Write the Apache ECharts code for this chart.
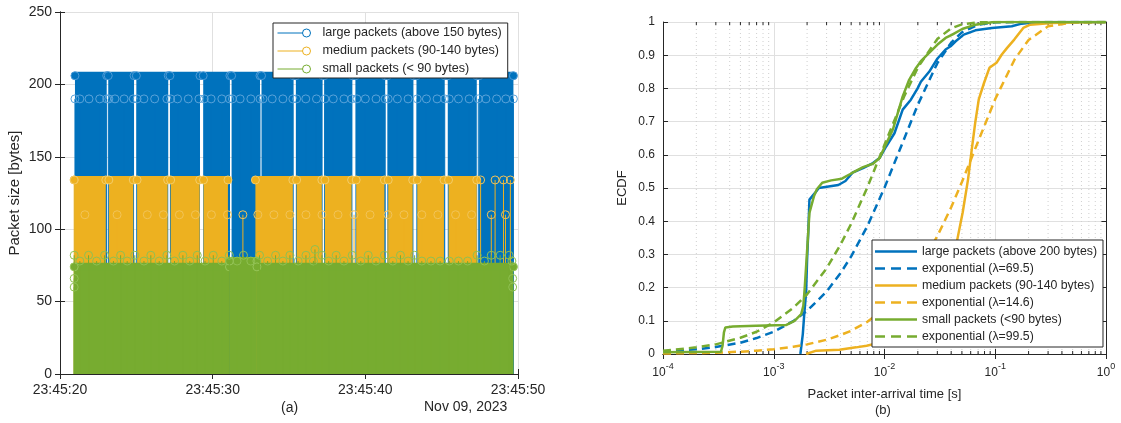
<!DOCTYPE html>
<html>
<head>
<meta charset="utf-8">
<script src="https://cdn.jsdelivr.net/npm/echarts@6.0.0/dist/echarts.min.js"></script>
<style>
html, body { margin: 0; padding: 0; background: #fff; }
#main { width: 1121px; height: 423px; }
</style>
</head>
<body>
<div id="main"></div>
<script>
// ---------- (a) packet sizes, time in seconds after 23:45:20 ----------
var timeTickLabels = ['23:45:20', '23:45:30', '23:45:40', '23:45:50'];

// dense bursts of stems: [start s, end s, size bytes]
var largeBursts = [[0.98, 3.06, 206], [3.16, 4.85, 206], [5.0, 7.09, 206], [7.2, 9.17, 206], [9.38, 11.13, 206],
  [11.24, 13.1, 206], [13.2, 15.3, 206], [15.45, 17.2, 206], [17.3, 19.15, 206], [19.35, 21.3, 206],
  [21.45, 23.15, 206], [23.35, 25.2, 206], [25.4, 27.3, 206], [27.45, 29.7, 206]];
var mediumBursts = [[0.93, 3.0, 134], [3.2, 4.8, 134], [5.05, 7.05, 134], [7.25, 9.15, 134], [9.4, 11.0, 134],
  [12.8, 15.25, 134], [15.5, 17.15, 134], [17.35, 19.1, 134], [19.4, 21.25, 134], [21.5, 23.1, 134],
  [23.4, 25.15, 134], [25.45, 27.3, 134]];
var smallBursts = [[0.93, 11.1, 74], [11.1, 12.9, 78], [12.9, 29.7, 74]];

// single stems that stand out
var large190Times = [0.98, 1.3, 1.9, 2.6, 3.06, 3.2, 3.6, 4.2, 4.8, 5.05, 5.5, 6.2, 7.0, 7.25, 7.7, 8.4, 9.1, 9.45,
  9.9, 10.6, 11.1, 11.3, 11.8, 12.5, 13.1, 13.3, 13.9, 14.6, 15.25, 15.5, 16.1, 16.8, 17.35, 17.9, 18.6, 19.1,
  19.45, 20.0, 20.7, 21.3, 21.5, 22.1, 22.8, 23.4, 24.0, 24.7, 25.2, 25.5, 26.1, 26.8, 27.4, 27.9, 28.6, 29.2, 29.7];
var medium110Times = [1.63, 3.74, 5.72, 6.77, 7.82, 8.87, 9.92, 10.97, 11.98, 12.96, 14.01, 15.06, 16.11, 17.16,
  18.21, 19.26, 20.31, 21.48, 22.53, 23.70, 24.75, 25.91, 26.96, 28.25, 29.18];
var medium134Times = [0.93, 27.55, 28.5, 29.05, 29.5];
var small82Times = [0.93, 1.87, 2.92, 3.97, 4.90, 5.95, 7.00, 8.05, 8.99, 10.04, 11.09, 12.02, 13.07, 14.12, 15.06,
  16.11, 17.16, 18.09, 19.14, 20.19, 21.25, 22.30, 23.23, 27.32, 28.25, 28.83, 29.42];
var small78Times = [1.3, 2.4, 3.5, 4.4, 5.5, 6.5, 7.5, 8.5, 9.5, 10.6, 11.6, 12.5, 13.6, 14.6, 15.6, 16.6, 17.6,
  18.6, 19.7, 20.7, 21.8, 22.8, 23.7, 24.3, 24.9, 25.5, 26.1, 26.7, 27.8, 29.6];
var smallOtherStems = [[16.7, 86], [0.93, 66], [0.93, 60], [29.65, 66], [29.65, 60]];

// ---------- (b) ECDF of inter-arrival time ----------
var decadeExponents = ['-4', '-3', '-2', '-1', '0'];
var ecdfTickLabels = ['0', '0.1', '0.2', '0.3', '0.4', '0.5', '0.6', '0.7', '0.8', '0.9', '1'];
var minorMultipliers = [2, 3, 4, 5, 6, 7, 8, 9];
var decades = [1e-4, 1e-3, 1e-2, 1e-1];

var largeX = [1.74e-3, 1.83e-3, 1.89e-3, 1.96e-3, 2.0e-3, 2.06e-3, 2.10e-3, 2.37e-3, 2.55e-3, 3.83e-3, 4.44e-3,
  5.14e-3, 6.4e-3, 7.87e-3, 9.02e-3, 0.01035, 0.0123, 0.0146, 0.0173, 0.0199, 0.0213, 0.0253, 0.0301, 0.0356,
  0.0395, 0.0439, 0.052, 0.0662, 0.0933, 0.141, 0.173, 0.228, 0.395, 1];
var largeY = [0, 0.06, 0.125, 0.185, 0.285, 0.385, 0.465, 0.486, 0.50, 0.509, 0.521, 0.546, 0.56, 0.575, 0.59,
  0.625, 0.665, 0.736, 0.766, 0.80, 0.82, 0.85, 0.89, 0.917, 0.927, 0.942, 0.962, 0.975, 0.982, 0.987, 0.995,
  0.999, 1, 1];
var mediumX = [1.96e-3, 2.42e-3, 3.92e-3, 5.54e-3, 6.9e-3, 9.29e-3, 0.015, 0.025, 0.035, 0.042, 0.0455, 0.0508,
  0.0568, 0.0611, 0.0659, 0.071, 0.0793, 0.0886, 0.1026, 0.1146, 0.128, 0.1485, 0.179, 0.207, 0.323, 0.6, 1];
var mediumY = [0, 0.01, 0.013, 0.02, 0.025, 0.035, 0.05, 0.08, 0.15, 0.28, 0.346, 0.426, 0.526, 0.611, 0.696,
  0.767, 0.817, 0.862, 0.877, 0.902, 0.922, 0.947, 0.982, 0.992, 0.997, 0.999, 1];
var smallX = [1e-4, 3.34e-4, 3.45e-4, 3.55e-4, 3.66e-4, 4.27e-4, 6.92e-4, 1.29e-3, 1.54e-3, 1.77e-3, 1.85e-3,
  1.9e-3, 1.96e-3, 2.03e-3, 2.10e-3, 2.31e-3, 2.45e-3, 2.74e-3, 3.3e-3, 4.12e-3, 4.96e-3, 6.4e-3, 7.87e-3,
  9.02e-3, 0.01035, 0.0119, 0.0146, 0.0167, 0.0192, 0.0213, 0.0253, 0.0301, 0.0356, 0.0409, 0.0503, 0.0662,
  0.0933, 0.11, 1];
var smallY = [0.005, 0.007, 0.025, 0.065, 0.08, 0.083, 0.085, 0.087, 0.10, 0.12, 0.145, 0.195, 0.265, 0.345,
  0.425, 0.476, 0.496, 0.516, 0.523, 0.528, 0.543, 0.563, 0.573, 0.59, 0.633, 0.676, 0.776, 0.826, 0.861, 0.882,
  0.907, 0.932, 0.952, 0.962, 0.979, 0.992, 0.999, 1, 1];

var expX = [1e-4, 2e-4, 3e-4, 5e-4, 7e-4, 1e-3, 1.5e-3, 2e-3, 3e-3, 4e-3, 5e-3, 7e-3, 1e-2, 1.5e-2, 2e-2, 3e-2,
  4e-2, 5e-2, 7e-2, 0.1, 0.15, 0.2, 0.3, 0.5, 1];
var expLargeY = [0.007, 0.014, 0.021, 0.034, 0.048, 0.067, 0.099, 0.13, 0.188, 0.243, 0.294, 0.385, 0.501, 0.647,
  0.751, 0.876, 0.938, 0.969, 0.992, 0.999, 1, 1, 1, 1, 1];
var expMediumY = [0.0015, 0.003, 0.004, 0.007, 0.010, 0.0145, 0.022, 0.029, 0.043, 0.057, 0.070, 0.097, 0.136,
  0.197, 0.253, 0.355, 0.442, 0.518, 0.640, 0.768, 0.888, 0.946, 0.987, 0.999, 1];
var expSmallY = [0.0095, 0.020, 0.029, 0.049, 0.067, 0.095, 0.139, 0.180, 0.258, 0.329, 0.392, 0.502, 0.630,
  0.775, 0.863, 0.949, 0.981, 0.993, 0.999, 1, 1, 1, 1, 1, 1];

var BLUE = '#0072BD', ORANGE = '#EDB120', GREEN = '#77AC30';
var INK = '#262626', GRID = '#e0e0e0';
var FONT = '"Liberation Sans", Arial, sans-serif';

var legendLabels = {
  large: 'large packets (above 150 bytes)',
  medium: 'medium packets (90-140 bytes)',
  small: 'small packets (< 90 bytes)',
  eLarge: 'large packets (above 200 bytes)',
  eLargeFit: 'exponential (λ=69.5)',
  eMedium: 'medium packets (90-140 bytes)',
  eMediumFit: 'exponential (λ=14.6)',
  eSmall: 'small packets (<90 bytes)',
  eSmallFit: 'exponential (λ=99.5)'
};

function pairs(xs, ys) {
  return xs.map(function (x, i) { return [x, ys[i]]; });
}
function atLevel(times, v) {
  return times.map(function (t) { return [t, v]; });
}

// filled block of overlapping stems with a row of circles on top
function renderBurst(color, ring) {
  return function (params, api) {
    var p0 = api.coord([api.value(0), 0]);
    var p1 = api.coord([api.value(1), api.value(2)]);
    var w = p1[0] - p0[0], r = 4;
    return {
      type: 'group',
      children: [
        { type: 'rect', shape: { x: p0[0], y: p1[1], width: w, height: p0[1] - p1[1] }, style: { fill: color } },
        { type: 'rect', shape: { x: p0[0] - r, y: p1[1] - r, width: w + 2 * r, height: 2 * r, r: r }, style: { fill: color } },
        { type: 'circle', shape: { cx: p0[0], cy: p1[1], r: r }, style: { fill: 'none', stroke: ring, lineWidth: 1 } },
        { type: 'circle', shape: { cx: p1[0], cy: p1[1], r: r }, style: { fill: 'none', stroke: ring, lineWidth: 1 } }
      ]
    };
  };
}
function renderStem(color, ring) {
  return function (params, api) {
    var b = api.coord([api.value(0), 0]);
    var t = api.coord([api.value(0), api.value(1)]);
    return {
      type: 'group',
      children: [
        { type: 'line', shape: { x1: b[0], y1: b[1], x2: t[0], y2: t[1] }, style: { stroke: color, lineWidth: 1 } },
        { type: 'circle', shape: { cx: t[0], cy: t[1], r: 4 }, style: { fill: 'none', stroke: ring, lineWidth: 1 } }
      ]
    };
  };
}
// dotted minor grid line for the log axis, with short ticks at both ends
function renderMinor(params, api) {
  var b = api.coord([api.value(0), 0]);
  var t = api.coord([api.value(0), 1]);
  return {
    type: 'group',
    children: [
      { type: 'line', shape: { x1: b[0], y1: b[1], x2: t[0], y2: t[1] }, style: { stroke: '#cfcfcf', lineWidth: 1, lineDash: [1, 3] } },
      { type: 'line', shape: { x1: b[0], y1: b[1], x2: b[0], y2: b[1] - 3 }, style: { stroke: INK, lineWidth: 1 } },
      { type: 'line', shape: { x1: t[0], y1: t[1], x2: t[0], y2: t[1] + 3 }, style: { stroke: INK, lineWidth: 1 } }
    ]
  };
}

var minorTicks = [];
decades.forEach(function (d) {
  minorMultipliers.forEach(function (m) { minorTicks.push([d * m, 0]); });
});

var stemIcon = 'path://M0,5L25,5M33,5A4,4,0,1,1,25,5A4,4,0,1,1,33,5';
// thick line / dashed line icons, padded to a 42x10 box so they are not stretched
var solidIcon = 'path://M0,0L0,0M0,10L0,10M0,3.75L42,3.75L42,6.25L0,6.25Z';
var dashIcon = 'path://M0,0L0,0M0,10L0,10M0,3.75L10,3.75L10,6.25L0,6.25ZM16,3.75L26,3.75L26,6.25L16,6.25ZM32,3.75L42,3.75L42,6.25L32,6.25Z';

function burstSeries(name, data, color, ring) {
  return { type: 'custom', name: name, xAxisIndex: 0, yAxisIndex: 0, clip: true,
    encode: { x: [0, 1], y: 2 }, renderItem: renderBurst(color, ring), data: data, silent: true };
}
function stemSeries(name, data, color, ring) {
  return { type: 'custom', name: name, xAxisIndex: 0, yAxisIndex: 0, clip: true,
    encode: { x: 0, y: 1 }, renderItem: renderStem(color, ring), data: data, silent: true };
}
function ecdfSeries(name, xs, ys, color, dashed) {
  return { type: 'line', name: name, xAxisIndex: 2, yAxisIndex: 2, data: pairs(xs, ys),
    symbol: 'none', showSymbol: false, animation: false, z: 3,
    lineStyle: { color: color, width: 2.5, type: dashed ? [8, 5] : 'solid' }, itemStyle: { color: color } };
}
function stemLegend(name, color) {
  return { name: name, icon: stemIcon, itemStyle: { color: 'rgba(0,0,0,0)', borderColor: color, borderWidth: 1 } };
}
function lineLegend(name, color, dashed) {
  return { name: name, icon: dashed ? dashIcon : solidIcon, itemStyle: { color: color, borderWidth: 0 } };
}
function legendText(name) { return legendLabels[name]; }

var chart = echarts.init(document.getElementById('main'));
var option = {
  animation: false,
  textStyle: { fontFamily: FONT, color: INK },
  grid: [
    { left: 60, top: 12, width: 458, height: 362 },
    { left: 663, top: 22, width: 443, height: 332 }
  ],
  xAxis: [
    { type: 'value', gridIndex: 0, min: 0, max: 30, interval: 10,
      axisLine: { lineStyle: { color: INK } },
      axisTick: { inside: true, length: 5, lineStyle: { color: INK } },
      axisLabel: { color: INK, fontSize: 14, margin: 9,
        formatter: function (v) { return timeTickLabels[Math.round(v / 10)]; } },
      splitLine: { show: true, lineStyle: { color: GRID } } },
    { type: 'value', gridIndex: 0, position: 'top', min: 0, max: 30, interval: 10,
      axisLine: { lineStyle: { color: INK } },
      axisTick: { inside: true, length: 5, lineStyle: { color: INK } },
      axisLabel: { show: false }, splitLine: { show: false } },
    { type: 'log', gridIndex: 1, logBase: 10, min: 1e-4, max: 1,
      axisLine: { lineStyle: { color: INK } },
      axisTick: { inside: true, length: 5, lineStyle: { color: INK } },
      axisLabel: { color: INK, margin: 8,
        formatter: function (v) {
          return '{b|10}{s|' + decadeExponents[Math.round(Math.log10(v)) + 4] + '}';
        },
        rich: { b: { fontSize: 12, color: INK, verticalAlign: 'bottom', lineHeight: 17 },
                s: { fontSize: 9, color: INK, verticalAlign: 'top', lineHeight: 17 } } },
      splitLine: { show: true, lineStyle: { color: GRID } },
      name: 'Packet inter-arrival time [s]', nameLocation: 'middle', nameGap: 34,
      nameTextStyle: { fontSize: 13, color: INK } },
    { type: 'log', gridIndex: 1, logBase: 10, min: 1e-4, max: 1, position: 'top',
      axisLine: { lineStyle: { color: INK } },
      axisTick: { inside: true, length: 5, lineStyle: { color: INK } },
      axisLabel: { show: false }, splitLine: { show: false } }
  ],
  yAxis: [
    { type: 'value', gridIndex: 0, min: 0, max: 250, interval: 50,
      axisLine: { show: true, lineStyle: { color: INK } },
      axisTick: { show: true, inside: true, length: 5, lineStyle: { color: INK } },
      axisLabel: { color: INK, fontSize: 14, margin: 8 },
      splitLine: { show: true, lineStyle: { color: GRID } },
      name: 'Packet size [bytes]', nameLocation: 'middle', nameGap: 38,
      nameTextStyle: { fontSize: 15, color: INK } },
    { type: 'value', gridIndex: 0, position: 'right', min: 0, max: 250, interval: 50,
      axisLine: { show: true, lineStyle: { color: INK } },
      axisTick: { show: true, inside: true, length: 5, lineStyle: { color: INK } },
      axisLabel: { show: false }, splitLine: { show: false } },
    { type: 'value', gridIndex: 1, min: 0, max: 1, interval: 0.1,
      axisLine: { show: true, lineStyle: { color: INK } },
      axisTick: { show: true, inside: true, length: 5, lineStyle: { color: INK } },
      axisLabel: { color: INK, fontSize: 12, margin: 8,
        formatter: function (v) { return ecdfTickLabels[Math.round(v * 10)]; } },
      splitLine: { show: true, lineStyle: { color: GRID } },
      name: 'ECDF', nameLocation: 'middle', nameGap: 34,
      nameTextStyle: { fontSize: 13, color: INK } },
    { type: 'value', gridIndex: 1, position: 'right', min: 0, max: 1, interval: 0.1,
      axisLine: { show: true, lineStyle: { color: INK } },
      axisTick: { show: true, inside: true, length: 5, lineStyle: { color: INK } },
      axisLabel: { show: false }, splitLine: { show: false } }
  ],
  legend: [
    { left: 273, top: 23, orient: 'vertical', backgroundColor: '#fff', borderColor: INK, borderWidth: 1,
      borderRadius: 0, padding: [3, 6, 2, 4], itemGap: 4, itemWidth: 33, itemHeight: 8,
      selectedMode: false, formatter: legendText,
      textStyle: { fontSize: 12.6, color: INK, lineHeight: 14, padding: [0, 0, 0, 7] },
      data: [stemLegend('large', BLUE), stemLegend('medium', ORANGE), stemLegend('small', GREEN)] },
    { left: 872, top: 240, orient: 'vertical', backgroundColor: '#fff', borderColor: INK, borderWidth: 1,
      borderRadius: 0, padding: [5, 6, 4, 3], itemGap: 4, itemWidth: 42, itemHeight: 10,
      selectedMode: false, formatter: legendText,
      textStyle: { fontSize: 12.3, color: INK, lineHeight: 13 },
      data: [lineLegend('eLarge', BLUE, false), lineLegend('eLargeFit', BLUE, true),
             lineLegend('eMedium', ORANGE, false), lineLegend('eMediumFit', ORANGE, true),
             lineLegend('eSmall', GREEN, false), lineLegend('eSmallFit', GREEN, true)] }
  ],
  graphic: [
    { type: 'text', left: 281, top: 401, style: { text: '(a)', font: '14px ' + FONT, fill: INK } },
    { type: 'text', left: 424, top: 400, style: { text: 'Nov 09, 2023', font: '14px ' + FONT, fill: INK } },
    { type: 'text', left: 875, top: 404, style: { text: '(b)', font: '13px ' + FONT, fill: INK } }
  ],
  series: [
    burstSeries('large', largeBursts, BLUE, '#4d9ad6'),
    stemSeries('large', atLevel(large190Times, 190), BLUE, '#5aa3da'),
    burstSeries('medium', mediumBursts, ORANGE, '#f4cc66'),
    stemSeries('medium', atLevel(medium110Times, 110), ORANGE, '#f2c458'),
    stemSeries('medium', atLevel(medium134Times, 134), ORANGE, '#f2c458'),
    burstSeries('small', smallBursts, GREEN, '#97c65a'),
    stemSeries('small', atLevel(small82Times, 82), GREEN, '#8fc052'),
    stemSeries('small', atLevel(small78Times, 78), GREEN, '#8fc052'),
    stemSeries('small', smallOtherStems, GREEN, '#8fc052'),
    { type: 'custom', xAxisIndex: 2, yAxisIndex: 2, encode: { x: 0, y: 1 }, renderItem: renderMinor,
      data: minorTicks, silent: true, z: 1 },
    ecdfSeries('eLarge', largeX, largeY, BLUE, false),
    ecdfSeries('eLargeFit', expX, expLargeY, BLUE, true),
    ecdfSeries('eMedium', mediumX, mediumY, ORANGE, false),
    ecdfSeries('eMediumFit', expX, expMediumY, ORANGE, true),
    ecdfSeries('eSmall', smallX, smallY, GREEN, false),
    ecdfSeries('eSmallFit', expX, expSmallY, GREEN, true)
  ]
};
chart.setOption(option);
</script>
</body>
</html>
